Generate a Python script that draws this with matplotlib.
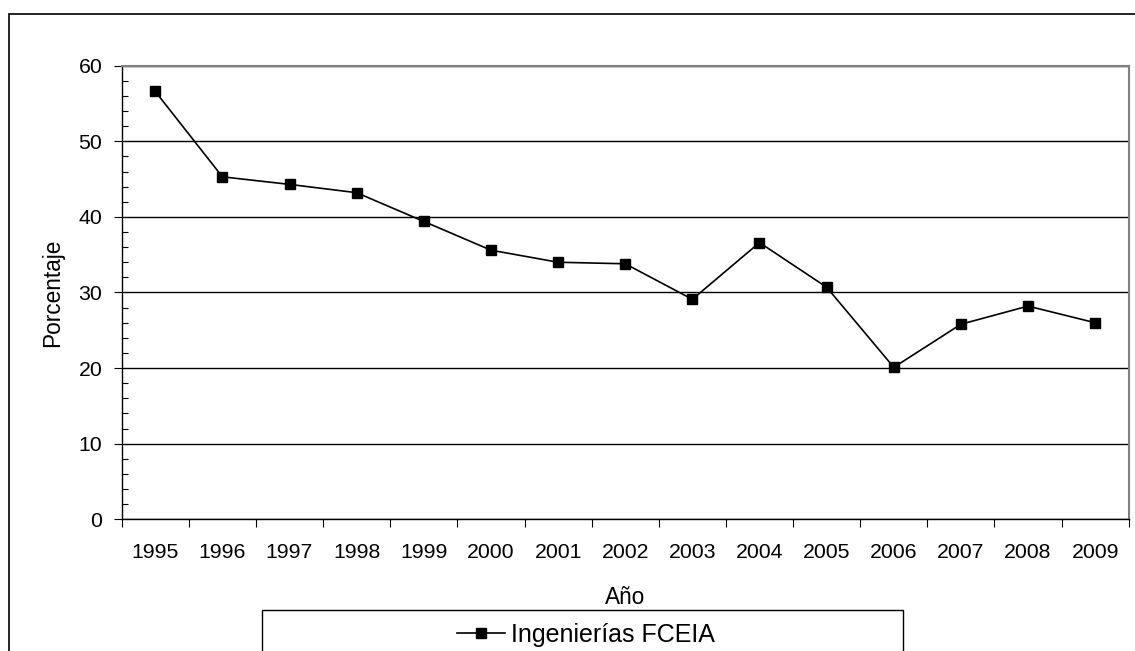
import matplotlib.pyplot as plt
from matplotlib.lines import Line2D
from matplotlib.patches import Rectangle
from matplotlib.ticker import MultipleLocator, FixedLocator, NullFormatter
import numpy as np

plt.rcParams['font.family'] = ['Liberation Sans', 'DejaVu Sans']

years = ["1995", "1996", "1997", "1998", "1999", "2000", "2001", "2002",
         "2003", "2004", "2005", "2006", "2007", "2008", "2009"]
porcentaje = [56.6, 45.3, 44.3, 43.2, 39.4, 35.6, 34.0, 33.8,
              29.1, 36.6, 30.7, 20.1, 25.8, 28.2, 26.0]
serie = "Ingenierías FCEIA"

fig = plt.figure(figsize=(11.35, 6.51), dpi=100)
ax = fig.add_axes([0.1072, 0.2023, 0.8873, 0.6968])

x = np.arange(len(years))
ax.plot(x, porcentaje, color="black", lw=1.2, marker="s", ms=7.5,
        mec="black", mfc="black", zorder=3)

ax.set_xlim(-0.5, len(years) - 0.5)
ax.set_ylim(0, 60)
ax.yaxis.set_major_locator(MultipleLocator(10))
ax.yaxis.set_minor_locator(MultipleLocator(2))
ax.grid(axis="y", which="major", color="black", lw=1.0)
ax.set_axisbelow(True)

# category boundaries as major ticks, labels centred on minor ticks
ax.xaxis.set_major_locator(FixedLocator(np.arange(-0.5, len(years), 1.0)))
ax.xaxis.set_major_formatter(NullFormatter())
ax.xaxis.set_minor_locator(FixedLocator(x))
ax.set_xticklabels(years, minor=True)
ax.tick_params(axis="x", which="major", direction="out", length=5.5, width=0.8)
ax.tick_params(axis="x", which="minor", length=0, pad=17, labelsize=15.3)
ax.tick_params(axis="y", which="major", direction="out", length=6, width=0.8,
               pad=8, labelsize=15.3)
ax.tick_params(axis="y", which="minor", direction="in", length=4.5, width=0.8)

for s in ["top", "right"]:
    ax.spines[s].set_color("#808080")
    ax.spines[s].set_linewidth(1.5)
for s in ["left", "bottom"]:
    ax.spines[s].set_color("black")
    ax.spines[s].set_linewidth(1.0)

ax.set_ylabel("Porcentaje", fontsize=16.3, labelpad=10)
ax.set_xlabel("Año", fontsize=16.3, labelpad=17)

# outer chart border, cut off at right and bottom
fig.patches.append(Rectangle((9 / 1135, -0.05), 1.2, 1 - 14 / 651 + 0.05,
                             transform=fig.transFigure, fill=False,
                             edgecolor="black", lw=1.2))
# legend box, also cut off at the bottom
fig.patches.append(Rectangle((262 / 1135, -0.05), (903 - 262) / 1135,
                             1 - 610 / 651 + 0.05, transform=fig.transFigure,
                             fill=False, edgecolor="black", lw=1.0))
handle = Line2D([], [], color="black", lw=1.2, marker="s", ms=7)
fig.legend([handle], [serie], loc="center", bbox_to_anchor=(586 / 1135, 1 - 635 / 651),
           frameon=False, fontsize=18, handlelength=1.9, handletextpad=0.25)

fig.savefig("out.png", dpi=100)
